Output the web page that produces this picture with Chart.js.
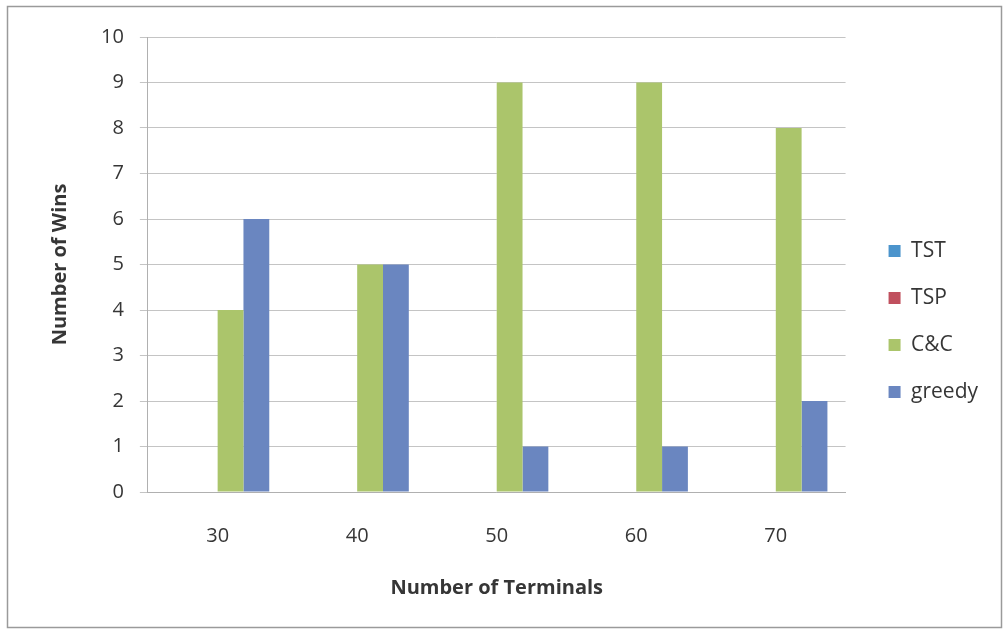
<!DOCTYPE html>
<html>
<head>
<meta charset="utf-8">
<script src="https://cdn.jsdelivr.net/npm/chart.js@4.4.1/dist/chart.umd.min.js"></script>
<style>
  html, body { margin: 0; padding: 0; background: #ffffff; }
  #wrap { width: 1003px; height: 631px; }
</style>
</head>
<body>
<div id="wrap"><canvas id="c" width="1003" height="631"></canvas></div>
<script>
// Wins per method for each terminal count
const terminals = ['30', '40', '50', '60', '70'];
const tstWins = [0, 0, 0, 0, 0];
const tspWins = [0, 0, 0, 0, 0];
const ccWins = [4, 5, 9, 9, 8];
const greedyWins = [6, 5, 1, 1, 2];

const FONT = '"Open Sans", Lato, sans-serif';
const TEXT = '#363636';

// White background with a thin grey frame around the whole figure
const framePlugin = {
  id: 'frame',
  beforeDraw(chart) {
    const ctx = chart.ctx;
    ctx.save();
    ctx.fillStyle = '#ffffff';
    ctx.fillRect(0, 0, chart.width, chart.height);
    ctx.strokeStyle = '#9a9a9a';
    ctx.lineWidth = 1.5;
    ctx.strokeRect(7.5, 6.5, chart.width - 9, chart.height - 10);
    ctx.restore();
  }
};

new Chart(document.getElementById('c'), {
  type: 'bar',
  data: {
    labels: terminals,
    datasets: [
      { label: 'TST', data: tstWins, backgroundColor: '#4b94cc' },
      { label: 'TSP', data: tspWins, backgroundColor: '#c0505e' },
      { label: 'C&C', data: ccWins, backgroundColor: '#abc56b' },
      { label: 'greedy', data: greedyWins, backgroundColor: '#6a86c0' }
    ]
  },
  options: {
    responsive: false,
    animation: false,
    devicePixelRatio: 1,
    layout: { padding: { left: 48, top: 37, right: 15, bottom: 25 } },
    datasets: { bar: { categoryPercentage: 0.74, barPercentage: 1.0, borderWidth: 0 } },
    plugins: {
      legend: {
        position: 'right',
        align: 'center',
        labels: {
          boxWidth: 12,
          boxHeight: 12,
          padding: 26,
          color: TEXT,
          font: { family: FONT, size: 21 }
        }
      },
      tooltip: { enabled: false }
    },
    scales: {
      x: {
        grid: { display: false },
        border: { display: true, color: '#b0b0b0', width: 1 },
        ticks: { color: TEXT, padding: 24, font: { family: FONT, size: 20 } },
        title: {
          display: true,
          text: 'Number of Terminals',
          color: TEXT,
          padding: { top: 4, bottom: 6 },
          font: { family: FONT, size: 20, weight: 'bold' }
        }
      },
      y: {
        min: 0,
        max: 10,
        ticks: { stepSize: 1, color: TEXT, padding: 16, font: { family: FONT, size: 20 } },
        grid: { color: '#c4c4c4', lineWidth: 1, tickLength: 8, drawTicks: true },
        border: { display: true, color: '#b0b0b0', width: 1 },
        title: {
          display: true,
          text: 'Number of Wins',
          color: TEXT,
          padding: { top: 0, bottom: 13 },
          font: { family: FONT, size: 20, weight: 'bold' }
        }
      },
      // empty spacer between the plot area and the legend
      gap: {
        type: 'linear',
        position: 'right',
        min: 0,
        max: 10,
        display: true,
        grid: { display: false, drawTicks: false },
        border: { display: false },
        ticks: { display: false },
        afterFit(scale) { scale.width = 17; }
      }
    }
  },
  plugins: [framePlugin]
});
</script>
</body>
</html>
